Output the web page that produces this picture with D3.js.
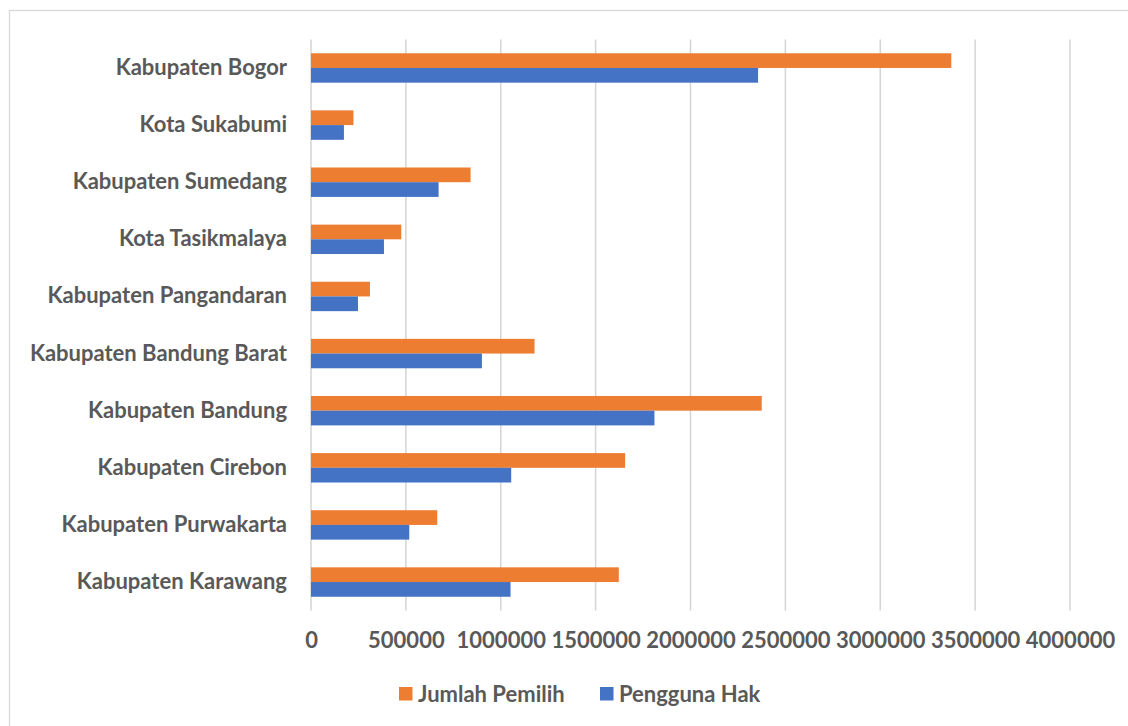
<!DOCTYPE html>
<html>
<head>
<meta charset="utf-8">
<script src="https://cdn.jsdelivr.net/npm/d3@7"></script>
<style>
  html, body { margin: 0; padding: 0; background: #ffffff; }
  svg { display: block; }
  text { font-family: Lato, "Open Sans", sans-serif; font-weight: 700; fill: #595959; }
</style>
</head>
<body>
<svg id="chart" width="1128" height="726"></svg>
<script>
// Regencies / cities, listed top to bottom
const categories = [
  "Kabupaten Bogor",
  "Kota Sukabumi",
  "Kabupaten Sumedang",
  "Kota Tasikmalaya",
  "Kabupaten Pangandaran",
  "Kabupaten Bandung Barat",
  "Kabupaten Bandung",
  "Kabupaten Cirebon",
  "Kabupaten Purwakarta",
  "Kabupaten Karawang"
];

// Registered voters
const jumlahPemilih = [3374400, 223700, 841000, 475800, 310700, 1178000, 2375400, 1655500, 665400, 1622200];
// Voters who used their right to vote
const penggunaHak = [2356200, 173500, 672400, 384500, 247500, 900600, 1810000, 1055100, 517900, 1051600];

const seriesNames = ["Jumlah Pemilih", "Pengguna Hak"];
const seriesColors = ["#ED7D31", "#4472C4"];
const xTicks = [0, 500000, 1000000, 1500000, 2000000, 2500000, 3000000, 3500000, 4000000];

const labelFont = "22px";

const svg = d3.select("#chart");

// Outer chart frame
svg.append("rect")
  .attr("x", 9.5).attr("y", 10.5)
  .attr("width", 1140).attr("height", 740)
  .attr("fill", "none")
  .attr("stroke", "#d9d9d9")
  .attr("stroke-width", 1.3);

const plot = { left: 311, right: 1070, top: 39.4, bottom: 610.6 };

const x = d3.scaleLinear()
  .domain([0, 4000000])
  .range([plot.left, plot.right]);

const y = d3.scaleBand()
  .domain(categories)
  .range([plot.top, plot.bottom])
  .paddingInner(0.485)
  .paddingOuter(0.2425);

const ySub = d3.scaleBand()
  .domain(seriesNames)
  .range([0, y.bandwidth()]);

// Vertical gridlines
svg.append("g")
  .selectAll("line")
  .data(xTicks)
  .join("line")
  .attr("x1", d => x(d)).attr("x2", d => x(d))
  .attr("y1", plot.top).attr("y2", plot.bottom)
  .attr("stroke", "#d4d4d4")
  .attr("stroke-width", 1.5);

// Bars
const rows = categories.map((c, i) => ({
  category: c,
  values: [jumlahPemilih[i], penggunaHak[i]]
}));

const groups = svg.append("g")
  .selectAll("g")
  .data(rows)
  .join("g")
  .attr("transform", d => `translate(0,${y(d.category)})`);

groups.selectAll("rect")
  .data(d => d.values.map((v, k) => ({ name: seriesNames[k], value: v, color: seriesColors[k] })))
  .join("rect")
  .attr("x", x(0))
  .attr("y", d => ySub(d.name))
  .attr("width", d => x(d.value) - x(0))
  .attr("height", ySub.bandwidth())
  .attr("fill", d => d.color);

// Category axis (labels only)
const yAxis = d3.axisLeft(y).tickSize(0).tickPadding(24);
const gy = svg.append("g")
  .attr("transform", `translate(${plot.left},0)`)
  .call(yAxis);
gy.select(".domain").remove();
gy.selectAll("text")
  .style("font-family", "Lato, sans-serif")
  .style("font-weight", 700)
  .style("font-size", labelFont)
  .attr("fill", "#595959");

// Value axis (labels only)
const xAxis = d3.axisBottom(x).tickValues(xTicks).tickFormat(d3.format("d")).tickSize(0).tickPadding(22);
const gx = svg.append("g")
  .attr("transform", `translate(0,${plot.bottom})`)
  .call(xAxis);
gx.select(".domain").remove();
gx.selectAll("text")
  .style("font-family", "Lato, sans-serif")
  .style("font-weight", 700)
  .style("font-size", labelFont)
  .attr("fill", "#595959");

// Legend
const legendItems = [
  { name: seriesNames[0], color: seriesColors[0], x: 399 },
  { name: seriesNames[1], color: seriesColors[1], x: 600 }
];
const legend = svg.append("g");
const li = legend.selectAll("g")
  .data(legendItems)
  .join("g")
  .attr("transform", d => `translate(${d.x},687)`);
li.append("rect")
  .attr("width", 13.5).attr("height", 13.5)
  .attr("fill", d => d.color);
li.append("text")
  .attr("x", 19)
  .attr("y", 14.5)
  .style("font-size", labelFont)
  .text(d => d.name);
</script>
</body>
</html>
